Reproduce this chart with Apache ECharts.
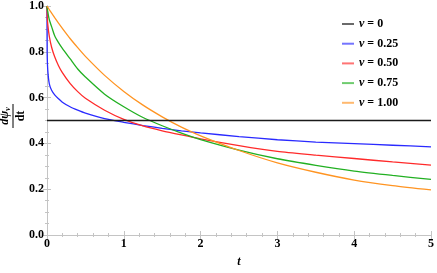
<!DOCTYPE html>
<html><head><meta charset="utf-8">
<script src="https://cdn.jsdelivr.net/npm/echarts@6/dist/echarts.min.js"></script>
<style>html,body{margin:0;padding:0;background:#fff}#c{width:437px;height:273px}</style>
</head><body><div id="c"></div>
<script>
var tVals = [0, 0.002, 0.01, 0.03, 0.06, 0.1, 0.15, 0.2, 0.3, 0.4, 0.5, 0.75, 1, 1.25, 1.5, 1.75, 2, 2.5, 3, 3.5, 4, 4.5, 5];
var nu0   = [0.5, 0.5, 0.5, 0.5, 0.5, 0.5, 0.5, 0.5, 0.5, 0.5, 0.5, 0.5, 0.5, 0.5, 0.5, 0.5, 0.5, 0.5, 0.5, 0.5, 0.5, 0.5, 0.5];
var nu025 = [1, 0.80, 0.72, 0.66, 0.632, 0.612, 0.595, 0.58, 0.56, 0.545, 0.532, 0.508, 0.492, 0.478, 0.466, 0.455, 0.446, 0.43, 0.416, 0.406, 0.399, 0.392, 0.385];
var nu050 = [1, 0.962, 0.92, 0.867, 0.82, 0.778, 0.739, 0.709, 0.662, 0.626, 0.597, 0.545, 0.505, 0.476, 0.455, 0.437, 0.42, 0.39, 0.365, 0.349, 0.334, 0.319, 0.305];
var nu075 = [1, 0.99, 0.975, 0.94, 0.91, 0.87, 0.84, 0.815, 0.77, 0.725, 0.69, 0.615, 0.56, 0.513, 0.477, 0.445, 0.417, 0.371, 0.333, 0.304, 0.279, 0.26, 0.243];
var nu100 = [1, 0.999, 0.995, 0.984, 0.969, 0.949, 0.925, 0.902, 0.858, 0.818, 0.78, 0.697, 0.627, 0.567, 0.516, 0.471, 0.433, 0.369, 0.315, 0.274, 0.24, 0.216, 0.197];
var seriesNames = ['ν = 0', 'ν = 0.25', 'ν = 0.50', 'ν = 0.75', 'ν = 1.00'];
var seriesValues = [nu0, nu025, nu050, nu075, nu100];
var seriesColors = ['#1a1a1a', '#2a2aff', '#ff2a2a', '#22b022', '#ff9422'];
var xTicks = [0, 1, 2, 3, 4, 5];
var yTicks = [0, 0.2, 0.4, 0.6, 0.8, 1.0];

var serif = 'Liberation Serif';
var frame = '#c4c4c4';
function pairs(vals){ return tVals.map(function(t,i){ return [t, vals[i]]; }); }

var series = seriesNames.map(function(n, k){
  return {
    name: n, type: 'line', data: pairs(seriesValues[k]),
    showSymbol: false, symbol: 'none', smooth: 0.25,
    lineStyle: {color: seriesColors[k], width: k === 0 ? 1.5 : 1.3},
    itemStyle: {color: seriesColors[k]},
    animation: false, z: k === 0 ? 3 : 2
  };
});

function axisCommon(extra){
  var base = {
    axisLine: {show: true, lineStyle: {color: frame, width: 1}},
    axisTick: {show: true, inside: true, length: 4, lineStyle: {color: frame}},
    minorTick: {show: true, length: 2, lineStyle: {color: frame}},
    splitLine: {show: false},
    minorSplitLine: {show: false}
  };
  for (var k in extra) base[k] = extra[k];
  return base;
}
var labelStyle = {fontFamily: serif, fontWeight: 'bold', fontSize: 12, color: '#000'};

var option = {
  backgroundColor: '#fff',
  animation: false,
  grid: {left: 47, right: 3, top: 5, bottom: 28, containLabel: false},
  xAxis: [
    axisCommon({type: 'value', min: 0, max: 5, interval: 1, position: 'bottom',
      minorTick: {show: true, splitNumber: 5, length: 2, lineStyle: {color: frame}},
      axisLabel: Object.assign({margin: 3, formatter: function(v){ return xTicks.indexOf(v) >= 0 ? String(v) : ''; }}, labelStyle),
      name: 't', nameLocation: 'middle', nameGap: 21,
      nameTextStyle: {fontFamily: serif, fontWeight: 'bold', fontStyle: 'italic', fontSize: 12, color: '#000'}}),
    axisCommon({type: 'value', min: 0, max: 5, interval: 1, position: 'top',
      minorTick: {show: true, splitNumber: 5, length: 2, lineStyle: {color: frame}},
      axisLabel: {show: false}})
  ],
  yAxis: [
    axisCommon({type: 'value', min: 0, max: 1, interval: 0.2, position: 'left',
      minorTick: {show: true, splitNumber: 4, length: 2, lineStyle: {color: frame}},
      axisLabel: Object.assign({margin: 3, formatter: function(v){ return v.toFixed(1); }}, labelStyle)}),
    axisCommon({type: 'value', min: 0, max: 1, interval: 0.2, position: 'right',
      minorTick: {show: true, splitNumber: 4, length: 2, lineStyle: {color: frame}},
      axisLabel: {show: false}})
  ],
  legend: {
    orient: 'vertical', left: 337, top: 12, itemGap: 5.7,
    icon: 'rect', itemWidth: 12, itemHeight: 2,
    itemStyle: {opacity: 0.65},
    data: seriesNames,
    formatter: function(n){ return '{i|ν}{t|' + n.slice(1) + '}'; },
    textStyle: {
      lineHeight: 14,
      rich: {
        i: {fontFamily: serif, fontWeight: 'bold', fontStyle: 'italic', fontSize: 12, color: '#000', lineHeight: 14},
        t: {fontFamily: serif, fontWeight: 'bold', fontSize: 12, color: '#000', lineHeight: 14}
      }
    }
  },
  graphic: [{
    type: 'group', x: 13, y: 116, rotation: Math.PI / 2,
    children: [
      {type: 'text', x: 0, y: -1.5, style: {text: '{a|dψ}{b|ν}', align: 'center', verticalAlign: 'bottom',
        rich: {a: {fontFamily: serif, fontWeight: 'bold', fontStyle: 'italic', fontSize: 12, fill: '#000'},
               b: {fontFamily: serif, fontWeight: 'bold', fontStyle: 'italic', fontSize: 8, fill: '#000', verticalAlign: 'bottom', padding: [5,0,0,0]}}}},
      {type: 'line', shape: {x1: -12, y1: 0, x2: 12, y2: 0}, style: {stroke: '#000', lineWidth: 1}},
      {type: 'text', x: 0, y: 1.5, style: {text: 'dt', align: 'center', verticalAlign: 'top',
        fontFamily: serif, fontWeight: 'bold', fontSize: 12, fill: '#000'}}
    ]
  }],
  series: series
};
var chart = echarts.init(document.getElementById('c'), null, {renderer: 'canvas'});
chart.setOption(option);
</script></body></html>
